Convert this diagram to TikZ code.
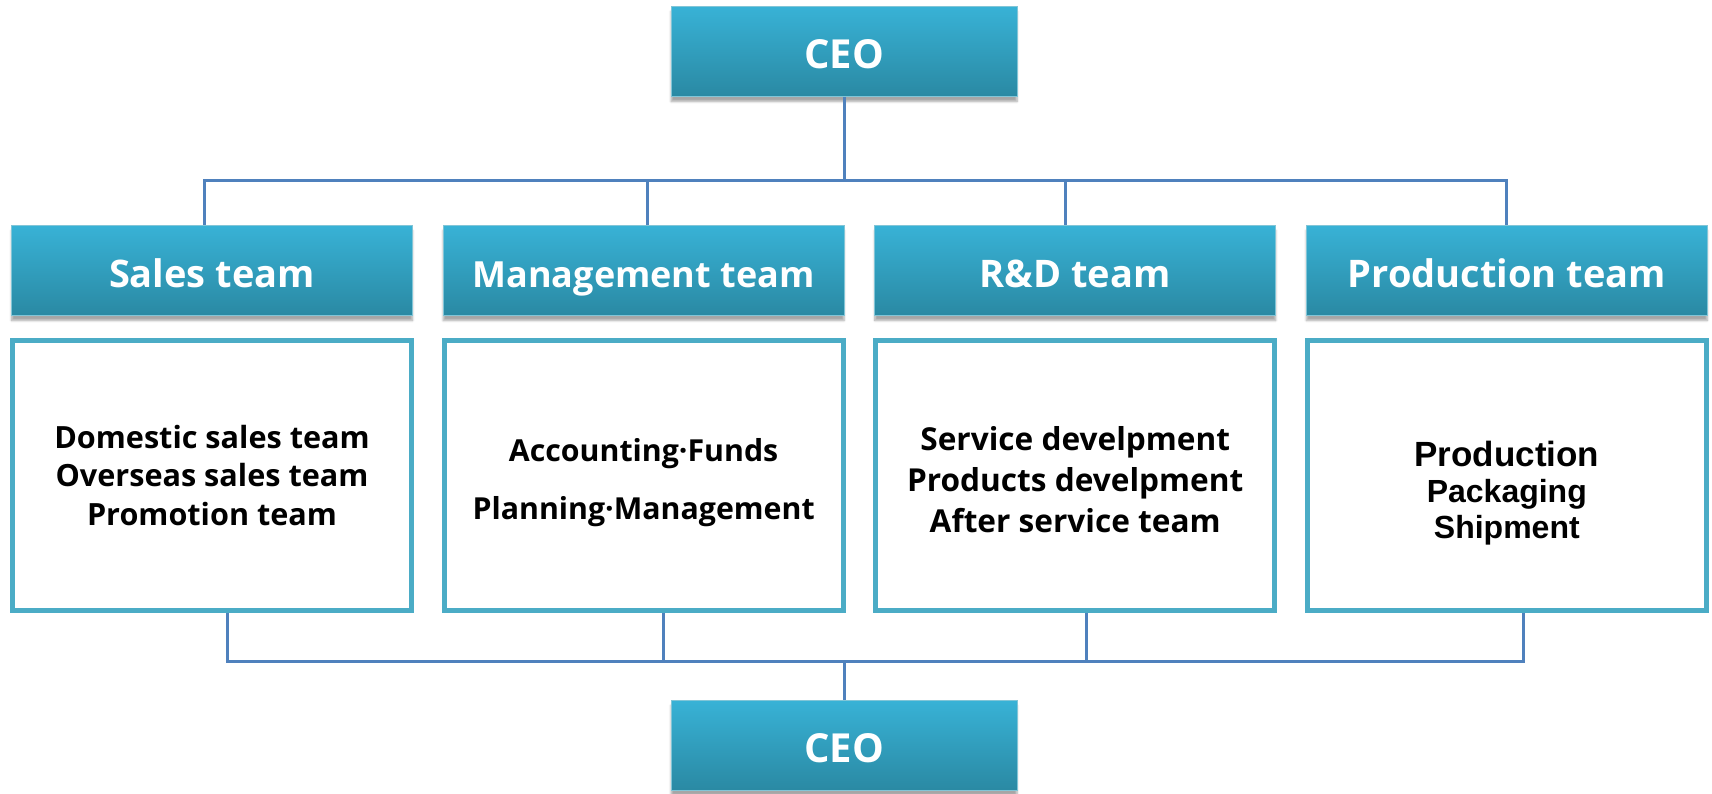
\documentclass[tikz,border=0pt]{standalone}
\usepackage{fontspec}
\setmainfont{Open Sans}
\newfontfamily\prodfont{Liberation Sans}
\usetikzlibrary{positioning, shadows, shadows.blur}
\definecolor{headtop}{RGB}{56,178,214}
\definecolor{headbot}{RGB}{42,137,163}
\definecolor{unitline}{RGB}{75,172,198}
\definecolor{wireblue}{RGB}{79,129,189}
\tikzset{
x=1pt, y=-1pt, % one unit is one pixel of the chart, y runs down
node distance=30pt, % gap between the team boxes
head/.style={minimum width=401pt, minimum height=90pt, inner sep=0pt, text height=33pt, text depth=0pt, top color=headtop, bottom color=headbot, draw=unitline!70, line width=0.6pt, text=white, font=\fontsize{38}{40}\selectfont\bfseries, blur shadow={shadow xshift=0pt, shadow yshift=-5pt, shadow blur steps=6, shadow opacity=35}}, % the blue title boxes
unit/.style={minimum width=399pt, minimum height=270pt, inner sep=0pt, draw=unitline, line width=5pt, fill=white, align=center, font=\fontsize{30.6}{38.5}\selectfont\bfseries}, % the framed lists
wire/.style={draw=wireblue, line width=3pt}, % the org chart lines
}
\begin{document}
\begin{tikzpicture}
\useasboundingbox (0,0) rectangle (1712,793);

\node[head, minimum width=346pt, font=\fontsize{40}{42}\selectfont\bfseries] (ceo) at (844,51.5) {CEO};

\node[head] (sales) at (212,270.5) {Sales team};
\node[head, right=of sales, font=\fontsize{36}{40}\selectfont\bfseries] (mgmt) {Management team};
\node[head, right=of mgmt] (rnd) {R\&D team};
\node[head, right=of rnd] (prod) {Production team};

\node[unit, below=22pt of sales] (salesbox) {Domestic sales team\\Overseas sales team\\Promotion team};
\node[unit, below=22pt of mgmt, font=\fontsize{30.3}{58}\selectfont\bfseries] (mgmtbox) {\rule{0pt}{38pt}Accounting·Funds\\Planning·Management};
\node[unit, below=22pt of rnd, font=\fontsize{31.6}{41}\selectfont\bfseries] (rndbox) {\rule{0pt}{32pt}Service develpment\\Products develpment\\After service team};
\node[unit, below=22pt of prod, font=\prodfont\fontsize{32}{36}\selectfont\bfseries] (prodbox) {\rule{0pt}{61pt}{\fontsize{35}{36}\selectfont Production}\\Packaging\\Shipment};

\node[head, minimum width=346pt, font=\fontsize{40}{42}\selectfont\bfseries] (ceo2) at (844,745.5) {CEO};

\draw[wire]
    (ceo.south) -- ++(0,84) -| ([xshift=-8pt]sales.north)
    (ceo.south) -- ++(0,84) -| ([xshift=4pt]mgmt.north)
    (ceo.south) -- ++(0,84) -| ([xshift=-10pt]rnd.north)
    (ceo.south) -- ++(0,84) -| (prod.north);

\draw[wire]
    ([xshift=15pt]salesbox.south) -- ++(0,49) -| (ceo2.north)
    ([xshift=20pt]mgmtbox.south) -- ++(0,49) -| (ceo2.north)
    ([xshift=11pt]rndbox.south) -- ++(0,49) -| (ceo2.north)
    ([xshift=17pt]prodbox.south) -- ++(0,49) -| (ceo2.north);
\end{tikzpicture}
\end{document}
